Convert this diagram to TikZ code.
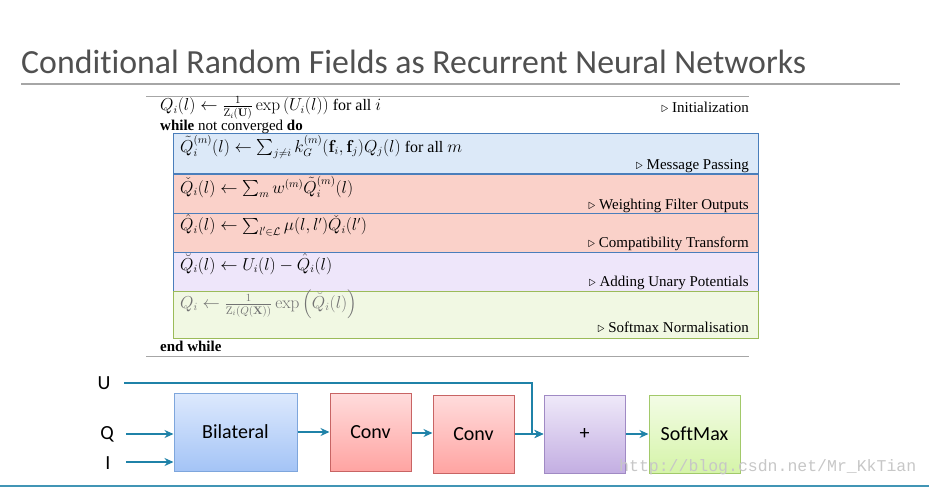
\documentclass[tikz,border=0pt]{standalone}
\usepackage{amsmath,amssymb}
\usepackage[no-math]{fontspec}
\setmainfont[Ligatures=NoCommon]{Carlito}
\newfontfamily\algfamily{Liberation Serif}
\newfontfamily\wmfamily{Liberation Mono}
\usetikzlibrary{arrows.meta, shadings}
\definecolor{titlegray}{HTML}{505050}
\definecolor{rulegray}{HTML}{A6A6A6}
\definecolor{flowteal}{HTML}{1F82A8}
\definecolor{algblue}{HTML}{4A7EBB}
\definecolor{mpfill}{HTML}{DCE9F8}
\definecolor{redfill}{HTML}{FAD1C9}
\definecolor{aufill}{HTML}{EEE6FA}
\definecolor{smfill}{HTML}{F1F8E3}
\definecolor{smborder}{HTML}{9BBB59}
\definecolor{bltop}{HTML}{DDE9FD}
\definecolor{blbot}{HTML}{A4C4F6}
\definecolor{blborder}{HTML}{7EA6DC}
\definecolor{cvtop}{HTML}{FFDCDC}
\definecolor{cvbot}{HTML}{FFA4A2}
\definecolor{cvborder}{HTML}{C86464}
\definecolor{pltop}{HTML}{EFE9F9}
\definecolor{plbot}{HTML}{C3AEE2}
\definecolor{plborder}{HTML}{A08AC4}
\definecolor{sxtop}{HTML}{F3FCE6}
\definecolor{sxbot}{HTML}{D5F4A8}
\definecolor{sxborder}{HTML}{A2C96A}
\newcommand{\algsize}{\fontsize{15}{17}\selectfont}
\newcommand{\mathsize}{\fontsize{16}{18}\selectfont}

\begin{document}
\begin{tikzpicture}[x=1pt, y=-1pt, >={Stealth[length=9pt, width=8pt]},
  algbox/.style={draw=algblue, line width=1pt, minimum width=585pt, inner sep=0pt},
  algtext/.style={font=\algfamily\algsize, anchor=west, inner sep=0pt},
  algmath/.style={font=\algfamily\mathsize, anchor=west, inner sep=0pt},
  algnote/.style={font=\algfamily\algsize, anchor=east, inner sep=0pt},
  block/.style={draw, line width=1pt, shade, shading angle=0, font=\fontsize{20}{22}\selectfont, inner sep=0pt, minimum height=78pt},
  flow/.style={->, flowteal, line width=2pt},
  inlabel/.style={font=\fontsize{20}{22}\selectfont, inner sep=0pt}]

\useasboundingbox (0,0) rectangle (929,488);

% Title
\node[text=titlegray, font=\fontsize{33.8}{36}\selectfont, anchor=west, inner sep=0pt] (title) at (21,62)
  {Conditional Random Fields as Recurrent Neural Networks};
\draw[rulegray, line width=1.2pt] (21,84) -- (900,84);

% Algorithm rules
\draw[rulegray, line width=1pt] (146,96) -- (749,96);
\draw[rulegray, line width=1pt] (146,356) -- (749,356);

% Algorithm boxes
\node[algbox, fill=mpfill, minimum height=40pt] (mpbox) at (465.5,153) {};
\node[algbox, fill=redfill, minimum height=39pt] (wfbox) at (465.5,193.5) {};
\node[algbox, fill=redfill, minimum height=39pt] (ctbox) at (465.5,232.5) {};
\node[algbox, fill=aufill, minimum height=39pt] (aubox) at (465.5,271.5) {};
\node[algbox, draw=smborder, fill=smfill, minimum height=47pt] (smbox) at (465.5,314.5) {};

% Algorithm lines
\node[algmath] (init) at (160,108)
  {$Q_i(l) \leftarrow \frac{1}{\mathrm{Z}_i(\mathbf{U})}\exp\left(U_i(l)\right)$ for all $i$};
\node[algnote] (initnote) at (749,107) {$\triangleright$ Initialization};
\node[algtext] (while) at (160,127) {\textbf{while} not converged \textbf{do}};

\node[algmath] (mp) at (180,147)
  {$\tilde{Q}_i^{(m)}(l) \leftarrow \sum_{j\neq i} k_G^{(m)}(\mathbf{f}_i,\mathbf{f}_j)Q_j(l)$ for all $m$};
\node[algnote] (mpnote) at (749,166) {$\triangleright$ Message Passing};

\node[algmath] (wf) at (180,187)
  {$\check{Q}_i(l) \leftarrow \sum_m w^{(m)}\tilde{Q}_i^{(m)}(l)$};
\node[algnote] (wfnote) at (749,206) {$\triangleright$ Weighting Filter Outputs};

\node[algmath] (ct) at (180,225)
  {$\hat{Q}_i(l) \leftarrow \sum_{l'\in\mathcal{L}} \mu(l,l')\check{Q}_i(l')$};
\node[algnote] (ctnote) at (749,244) {$\triangleright$ Compatibility Transform};

\node[algmath] (au) at (180,264)
  {$\breve{Q}_i(l) \leftarrow U_i(l) - \hat{Q}_i(l)$};
\node[algnote] (aunote) at (749,283) {$\triangleright$ Adding Unary Potentials};

\node[algmath, text=black!55] (sm) at (180,304)
  {$Q_i \leftarrow \frac{1}{\mathrm{Z}_i(Q(\mathbf{X}))}\exp\left(\breve{Q}_i(l)\right)$};
\node[algnote] (smnote) at (749,327) {$\triangleright$ Softmax Normalisation};

\node[algtext] (endwhile) at (160,346) {\textbf{end while}};

% Network blocks
\node[block, draw=blborder, top color=bltop, bottom color=blbot, minimum width=123pt] (bilat) at (235.5,432) {Bilateral};
\node[block, draw=cvborder, top color=cvtop, bottom color=cvbot, minimum width=81pt] (conva) at (370.5,432) {Conv};
\node[block, draw=cvborder, top color=cvtop, bottom color=cvbot, minimum width=81pt] (convb) at (473.5,434) {Conv};
\node[block, draw=plborder, top color=pltop, bottom color=plbot, minimum width=81pt] (plus) at (584.5,434) {+};
\node[block, draw=sxborder, top color=sxtop, bottom color=sxbot, minimum width=91pt] (softmax) at (694.5,434) {SoftMax};

% Inputs
\node[inlabel] (ulab) at (104,383) {U};
\node[inlabel] (qlab) at (107,434) {Q};
\node[inlabel] (ilab) at (108,463) {I};
\coordinate (uin) at (124,383);
\coordinate (qin) at (126,434);
\coordinate (iin) at (126,462);
\coordinate (ujoin) at (532,434);

% Connections
\draw[flow] (qin) -- (qin -| bilat.west);
\draw[flow] (iin) -- (iin -| bilat.west);
\draw[flow] (bilat.east) -- (conva.west);
\draw[flow] (conva.east |- 433,433) -- (convb.west |- 433,433);
\draw[flow] (convb.east) -- (plus.west);
\draw[flow] (uin) -| (ujoin) -- (plus.west);
\draw[flow] (plus.east) -- (softmax.west);

% Watermark
\node[text=black!22, font=\wmfamily\fontsize{16.5}{18}\selectfont, anchor=west, inner sep=0pt] (mark) at (619,467)
  {http://blog.csdn.net/Mr\_KkTian};

% Bottom rule
\draw[flowteal!85!white, line width=2pt] (0,486) -- (929,486);

\end{tikzpicture}
\end{document}
